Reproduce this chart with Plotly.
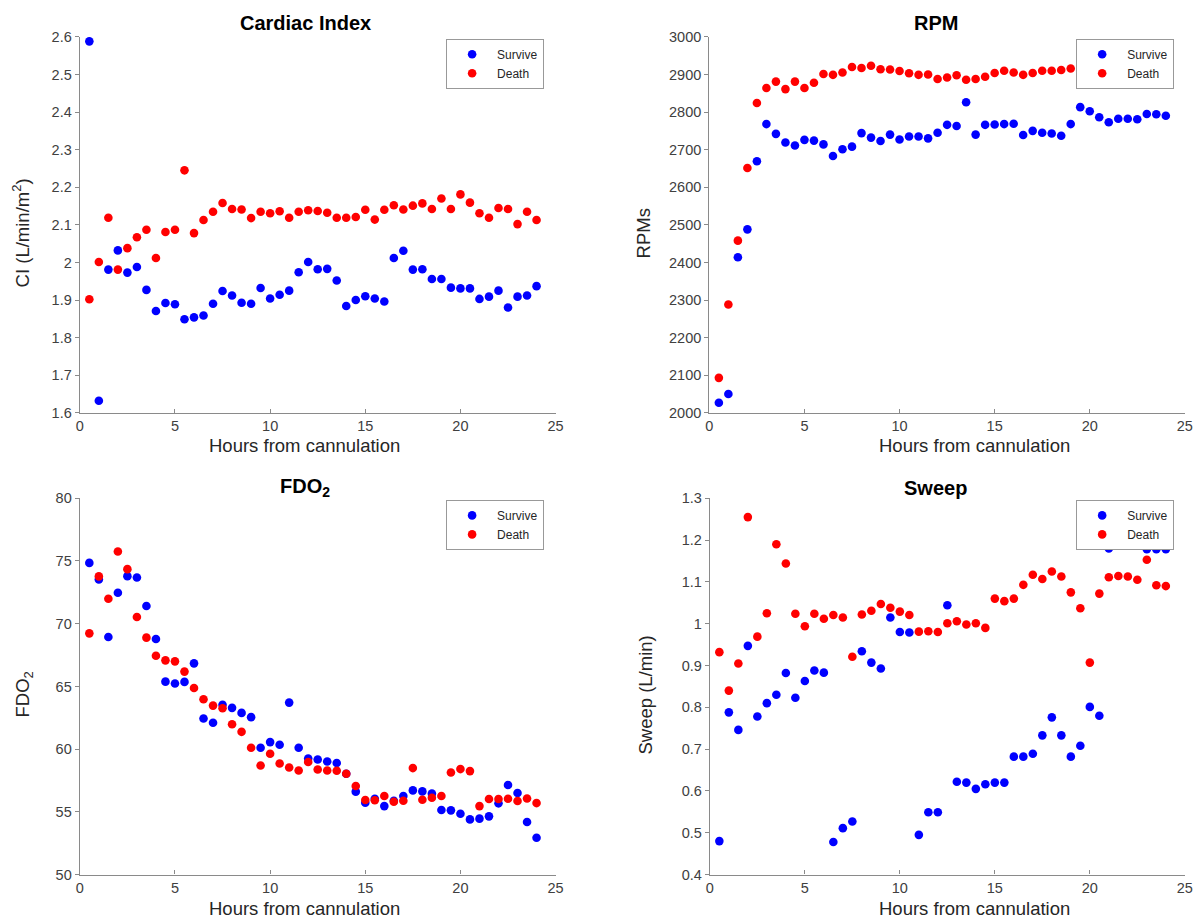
import plotly.graph_objects as go

hours = [0.5 * i for i in range(1, 49)]

ci_survive = [2.588, 1.632, 1.981, 2.032, 1.973, 1.988, 1.927, 1.871, 1.892, 1.889,
              1.849, 1.854, 1.859, 1.890, 1.924, 1.912, 1.893, 1.890, 1.932, 1.904,
              1.914, 1.925, 1.974, 2.001, 1.982, 1.983, 1.952, 1.884, 1.900, 1.910,
              1.904, 1.896, 2.012, 2.031, 1.981, 1.982, 1.956, 1.956, 1.933, 1.931,
              1.931, 1.903, 1.909, 1.925, 1.880, 1.909, 1.912, 1.937]
ci_death = [1.902, 2.001, 2.119, 1.981, 2.038, 2.067, 2.087, 2.012, 2.081, 2.087,
            2.245, 2.078, 2.113, 2.135, 2.158, 2.142, 2.141, 2.118, 2.135, 2.131,
            2.136, 2.119, 2.135, 2.139, 2.137, 2.132, 2.119, 2.119, 2.121, 2.140,
            2.114, 2.140, 2.152, 2.141, 2.151, 2.157, 2.142, 2.170, 2.142, 2.181,
            2.159, 2.131, 2.119, 2.145, 2.142, 2.102, 2.135, 2.113]

rpm_survive = [2027, 2050, 2414, 2488, 2669, 2768, 2742, 2719, 2711, 2726,
               2724, 2714, 2683, 2701, 2708, 2744, 2732, 2723, 2740, 2727,
               2735, 2735, 2730, 2745, 2766, 2763, 2826, 2740, 2766, 2767,
               2768, 2769, 2739, 2750, 2745, 2743, 2737, 2768, 2813, 2802,
               2786, 2773, 2782, 2782, 2781, 2795, 2794, 2790]
rpm_death = [2093, 2288, 2458, 2651, 2824, 2864, 2881, 2861, 2881, 2864,
             2878, 2901, 2899, 2905, 2920, 2917, 2923, 2914, 2913, 2909,
             2903, 2899, 2900, 2888, 2892, 2898, 2886, 2888, 2894, 2904,
             2910, 2905, 2899, 2904, 2910, 2910, 2912, 2916, 2920, 2924,
             2921, 2919, 2923, 2921, 2920, 2924, 2921, 2920]

fdo2_survive = [74.85, 73.53, 68.94, 72.47, 73.79, 73.69, 71.41, 68.78, 65.38, 65.23,
                65.36, 66.84, 62.44, 62.10, 63.53, 63.29, 62.89, 62.55, 60.11, 60.56,
                60.35, 63.71, 60.11, 59.25, 59.18, 59.02, 58.89, 58.04, 56.61, 55.73,
                56.05, 55.46, 55.89, 56.26, 56.71, 56.63, 56.45, 55.15, 55.12, 54.85,
                54.40, 54.46, 54.64, 55.68, 57.14, 56.50, 54.19, 52.94]
fdo2_death = [69.23, 73.77, 71.99, 75.76, 74.35, 70.53, 68.89, 67.45, 67.08, 67.00,
              66.18, 64.88, 63.98, 63.47, 63.26, 61.99, 61.38, 60.11, 58.70, 59.63,
              58.86, 58.54, 58.30, 58.97, 58.38, 58.30, 58.28, 58.04, 57.06, 55.94,
              55.92, 56.26, 55.81, 55.89, 58.49, 55.97, 56.13, 56.26, 58.14, 58.41,
              58.25, 55.46, 56.02, 56.02, 56.05, 55.86, 56.07, 55.70]

sweep_survive = [0.480, 0.788, 0.746, 0.947, 0.778, 0.810, 0.830, 0.882, 0.823, 0.863,
                 0.888, 0.883, 0.478, 0.511, 0.527, 0.934, 0.907, 0.893, 1.015, 0.980,
                 0.979, 0.495, 0.549, 0.549, 1.044, 0.622, 0.620, 0.605, 0.616, 0.620,
                 0.620, 0.682, 0.682, 0.689, 0.733, 0.776, 0.733, 0.682, 0.708, 0.801,
                 0.780, 1.180, 1.200, 1.210, 1.200, 1.178, 1.178, 1.178]
sweep_death = [0.932, 0.840, 0.905, 1.255, 0.969, 1.025, 1.190, 1.144, 1.024, 0.994,
               1.024, 1.012, 1.021, 1.015, 0.921, 1.022, 1.031, 1.047, 1.038, 1.029,
               1.021, 0.981, 0.982, 0.980, 1.001, 1.006, 0.998, 1.001, 0.990, 1.060,
               1.054, 1.060, 1.093, 1.117, 1.107, 1.125, 1.113, 1.075, 1.037, 0.907,
               1.072, 1.111, 1.114, 1.113, 1.105, 1.153, 1.092, 1.090]

x_ticks = [0, 5, 10, 15, 20, 25]
ci_ticks = [1.6, 1.7, 1.8, 1.9, 2.0, 2.1, 2.2, 2.3, 2.4, 2.5, 2.6]
ci_ticktext = ["1.6", "1.7", "1.8", "1.9", "2", "2.1", "2.2", "2.3", "2.4", "2.5", "2.6"]
rpm_ticks = [2000, 2100, 2200, 2300, 2400, 2500, 2600, 2700, 2800, 2900, 3000]
fdo2_ticks = [50, 55, 60, 65, 70, 75, 80]
sweep_ticks = [0.4, 0.5, 0.6, 0.7, 0.8, 0.9, 1.0, 1.1, 1.2, 1.3]
sweep_ticktext = ["0.4", "0.5", "0.6", "0.7", "0.8", "0.9", "1", "1.1", "1.2", "1.3"]

titles = ["Cardiac Index", "RPM", "FDO<sub>2</sub>", "Sweep"]
y_titles = ["CI (L/min/m<sup>2</sup>)", "RPMs", "FDO<sub>2</sub>", "Sweep (L/min)"]
x_title = "Hours from cannulation"
series_names = ["Survive", "Death"]

W, H = 1199, 922
# measured mapping between page pixels and the photographed picture
A_X, B_X = 4.07, 0.9915
A_Y, B_Y = 7.1, 0.9845
FONT = "Liberation Sans, Arial, sans-serif"
BLUE = "#0000FF"
RED = "#FF0000"
AXIS_COLOR = "#8a8a8a"
TICK_FONT_COLOR = "#404040"


def px_x(p):
    return ((p - A_X) / B_X) / W


def px_y(p):
    return 1 - ((p - A_Y) / B_Y) / H


panels = [
    dict(surv=ci_survive, death=ci_death, yrange=[1.6, 2.6], yticks=ci_ticks, ytext=ci_ticktext,
         xdom=[80, 556.5], ydom=[36, 412.7]),
    dict(surv=rpm_survive, death=rpm_death, yrange=[2000, 3000], yticks=rpm_ticks,
         ytext=[str(v) for v in rpm_ticks], xdom=[710.5, 1186.7], ydom=[36, 412.7]),
    dict(surv=fdo2_survive, death=fdo2_death, yrange=[50, 80], yticks=fdo2_ticks,
         ytext=[str(v) for v in fdo2_ticks], xdom=[80, 556.5], ydom=[498.3, 875.3]),
    dict(surv=sweep_survive, death=sweep_death, yrange=[0.4, 1.3], yticks=sweep_ticks,
         ytext=sweep_ticktext, xdom=[711, 1186.7], ydom=[498.3, 875.3]),
]

# text positions (reference pixels)
title_pos = [(306, 22), (937, 22), (306, 488), (937, 488)]
xtitle_pos = [(305, 445), (976, 445), (305, 909), (976, 909)]
ytitle_pos = [(22, 232), (645, 233), (24, 695), (647, 695)]
legend_pos = [(545, 88), (1176, 88), (545, 550), (1176, 550)]

fig = go.Figure()
layout = dict(
    width=W, height=H, autosize=False,
    margin=dict(l=0, r=0, t=0, b=0),
    paper_bgcolor="white", plot_bgcolor="white",
    font=dict(family=FONT, color="#000000"),
    annotations=[],
)

for i, p in enumerate(panels):
    n = i + 1
    xa = "x" if n == 1 else f"x{n}"
    ya = "y" if n == 1 else f"y{n}"
    lg = "legend" if n == 1 else f"legend{n}"
    for name, vals, col in [(series_names[0], p["surv"], BLUE), (series_names[1], p["death"], RED)]:
        fig.add_trace(go.Scatter(
            x=hours, y=vals, mode="markers", name=name,
            marker=dict(color=col, size=8.6, line=dict(width=0)),
            xaxis=xa, yaxis=ya, legend=lg, cliponaxis=False,
        ))
    xkey = "xaxis" if n == 1 else f"xaxis{n}"
    ykey = "yaxis" if n == 1 else f"yaxis{n}"
    layout[xkey] = dict(
        domain=[px_x(p["xdom"][0]), px_x(p["xdom"][1])], anchor=ya,
        range=[0, 25], tickvals=x_ticks, ticktext=[str(v) for v in x_ticks],
        ticks="inside", ticklen=4, tickcolor=AXIS_COLOR, tickwidth=1,
        showline=True, linecolor=AXIS_COLOR, linewidth=1.3,
        showgrid=False, zeroline=False, ticklabelstandoff=0,
        tickfont=dict(size=14.5, color=TICK_FONT_COLOR, family=FONT),
    )
    layout[ykey] = dict(
        domain=[px_y(p["ydom"][1]), px_y(p["ydom"][0])], anchor=xa,
        range=p["yrange"], tickvals=p["yticks"], ticktext=p["ytext"],
        ticks="outside", ticklen=4, tickcolor=AXIS_COLOR, tickwidth=1,
        showline=True, linecolor=AXIS_COLOR, linewidth=1.3,
        showgrid=False, zeroline=False,
        tickfont=dict(size=14.5, color=TICK_FONT_COLOR, family=FONT),
    )
    lx, ly = legend_pos[i]
    layout[lg] = dict(
        x=px_x(lx), y=px_y(ly), xanchor="right", yanchor="bottom",
        xref="paper", yref="paper",
        bgcolor="white", bordercolor="#999999", borderwidth=1,
        font=dict(size=12, color="#262626", family=FONT),
        itemwidth=40, tracegroupgap=0,
    )
    tx, ty = title_pos[i]
    layout["annotations"].append(dict(
        text=f"<b>{titles[i]}</b>", x=px_x(tx), y=px_y(ty), xref="paper", yref="paper",
        xanchor="center", yanchor="middle", showarrow=False,
        font=dict(size=20, color="#000000", family=FONT),
    ))
    tx, ty = xtitle_pos[i]
    layout["annotations"].append(dict(
        text=x_title, x=px_x(tx), y=px_y(ty), xref="paper", yref="paper",
        xanchor="center", yanchor="middle", showarrow=False,
        font=dict(size=18.5, color="#262626", family=FONT),
    ))
    tx, ty = ytitle_pos[i]
    layout["annotations"].append(dict(
        text=y_titles[i], x=px_x(tx), y=px_y(ty), xref="paper", yref="paper",
        xanchor="center", yanchor="middle", showarrow=False, textangle=-90,
        font=dict(size=18.5, color="#262626", family=FONT),
    ))

fig.update_layout(**layout)
fig.write_html("out.html", include_plotlyjs=True, full_html=True,
               config={"displayModeBar": False, "responsive": False},
               post_script="document.body.style.margin='0';document.documentElement.style.overflow='hidden';")
